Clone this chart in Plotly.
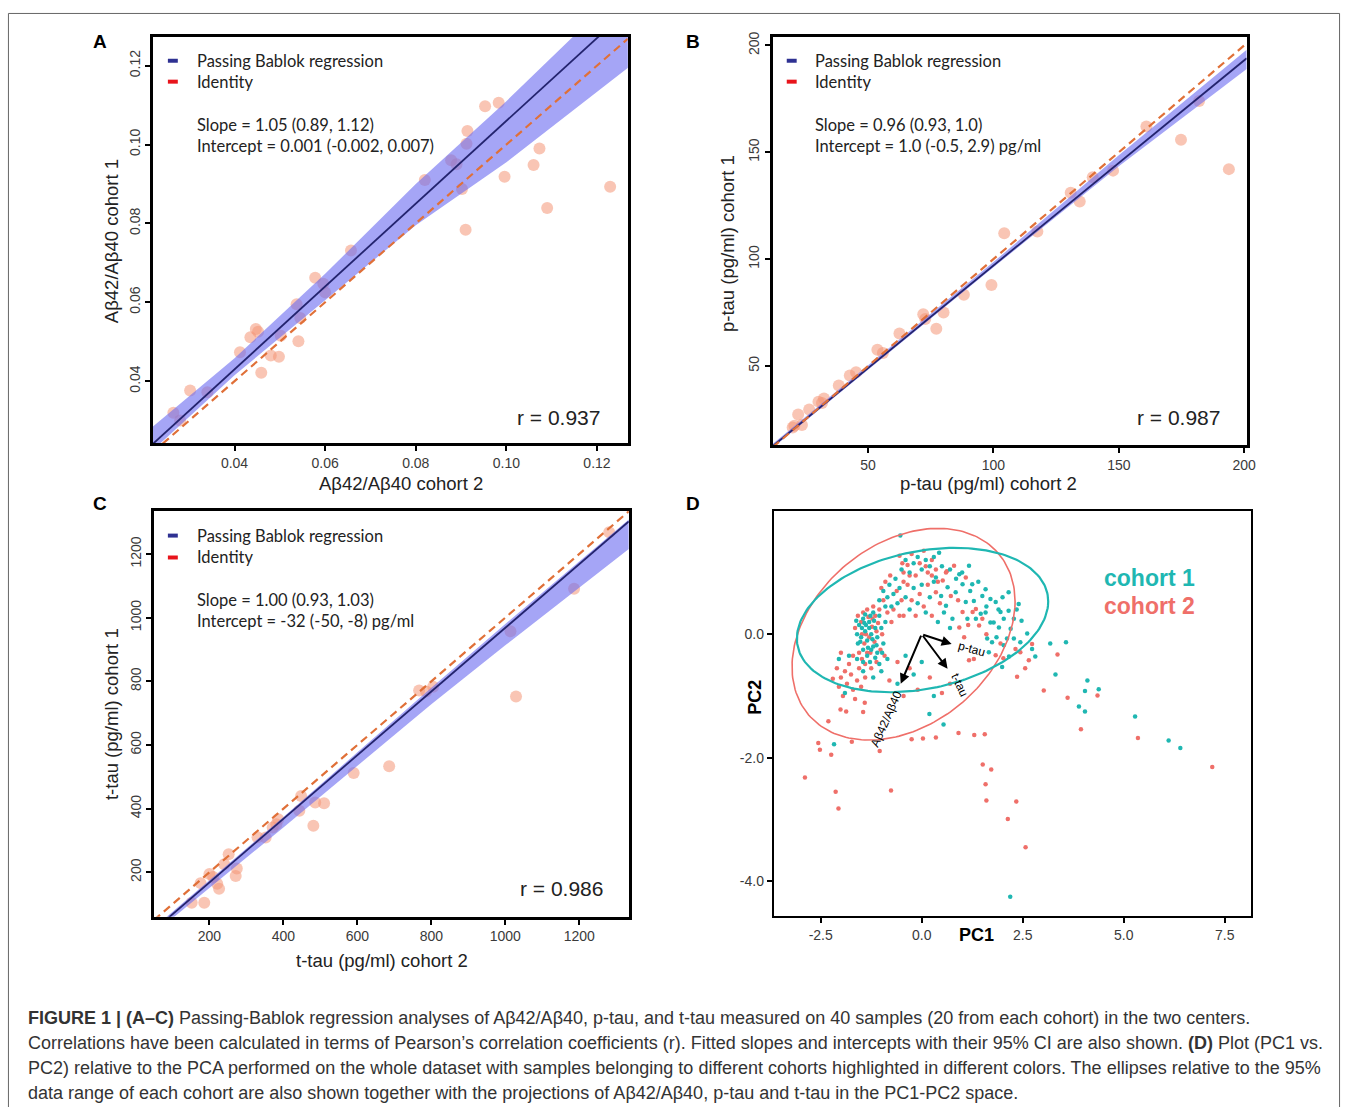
import numpy as np
import plotly.graph_objects as go

# ---------------- data ----------------
# Panel A : Abeta42/Abeta40
a_x = [0.0265, 0.0302, 0.0340, 0.0412, 0.0435, 0.0447, 0.0452, 0.0459, 0.0480, 0.0498, 0.0502,
       0.0541, 0.0537, 0.0578, 0.0596, 0.0657, 0.0820, 0.0878, 0.0902, 0.0910, 0.0914, 0.0912,
       0.0953, 0.0983, 0.0996, 0.1060, 0.1073, 0.1090, 0.1229, 0.0600, 0.0545, 0.0280, 0.0890]
a_y = [0.0320, 0.0376, 0.0372, 0.0473, 0.0511, 0.0532, 0.0525, 0.0421, 0.0465, 0.0462, 0.0515,
       0.0501, 0.0595, 0.0662, 0.0647, 0.0731, 0.0910, 0.0960, 0.0887, 0.0784, 0.1034, 0.1002,
       0.1097, 0.1106, 0.0918, 0.0948, 0.0990, 0.0839, 0.0893, 0.0625, 0.0560, 0.0300, 0.0950]
a_slope, a_icpt = 1.05, 0.001
a_band_x = [0.022, 0.04, 0.06, 0.08, 0.10, 0.127]
a_band_lo = [0.0225, 0.0415, 0.0605, 0.0795, 0.0955, 0.1196]
a_band_hi = [0.0285, 0.0458, 0.0672, 0.0900, 0.1110, 0.1410]

# Panel B : p-tau
b_x = [20.6, 22.1, 23.6, 19.9, 26.5, 30.2, 31.6, 32.4, 38.3, 42.7, 45.2, 53.7, 55.9, 62.5, 72.0,
       72.8, 77.2, 80.1, 88.2, 99.2, 104.3, 117.5, 130.8, 134.4, 139.6, 147.7, 174.8, 193.9, 182.0, 161.0]
b_y = [22.0, 27.3, 22.4, 21.2, 29.6, 33.3, 32.6, 34.8, 40.9, 45.5, 47.0, 57.6, 56.1, 65.2, 74.2,
       72.0, 67.4, 75.0, 83.3, 87.9, 112.1, 112.9, 131.0, 127.0, 138.3, 141.4, 155.8, 142.1, 174.0, 162.0]
b_slope, b_icpt = 0.96, 1.0
b_band_x = [12, 50, 100, 150, 201]
b_band_lo = [11.8, 48.4, 96.2, 143.5, 189.0]
b_band_hi = [13.6, 50.3, 98.6, 148.6, 198.0]

# Panel C : t-tau
c_x = [152, 186, 176, 200, 221, 226, 252, 271, 274, 352, 381, 371, 386, 448, 443, 486, 510, 481,
       590, 686, 767, 805, 786, 1014, 1029, 1186, 1281, 210, 240, 330]
c_y = [104, 104, 166, 195, 164, 148, 257, 188, 212, 309, 351, 341, 367, 440, 393, 419, 417, 346,
       512, 533, 771, 783, 768, 957, 752, 1091, 1268, 185, 225, 310]
c_slope, c_icpt = 1.00, -32.0
c_band_x = [50, 400, 800, 1000, 1334]
c_band_lo = [8, 341, 728, 913, 1216]
c_band_hi = [26, 374, 780, 980, 1308]

# Panel D : PCA scores
d1_pts = [  # cohort 1
    (-1.55, 0.15), (-1.45, 0.25), (-1.40, 0.05), (-1.35, -0.10), (-1.30, 0.20), (-1.25, 0.00),
    (-1.20, -0.20), (-1.15, 0.10), (-1.10, -0.05), (-1.05, 0.30), (-1.50, -0.05), (-1.45, -0.25),
    (-1.35, -0.35), (-1.28, -0.45), (-1.20, 0.35), (-1.10, -0.30), (-1.00, 0.10), (-0.95, -0.15),
    (-1.60, 0.00), (-1.58, -0.15), (-1.40, 0.32), (-1.30, 0.10), (-1.22, -0.08), (-1.15, -0.38),
    (-1.05, -0.48), (-0.90, 0.20), (-1.48, 0.10), (-1.33, -0.22), (-1.18, 0.22), (-1.38, 0.15),
    (-1.62, 0.22), (-1.52, -0.12), (-1.42, 0.18), (-1.27, 0.30), (-1.12, -0.18), (-0.98, -0.30),
    (-1.25, -0.25), (-1.45, -0.45),
    (-1.05, 0.55), (-0.95, 0.70), (-0.85, 0.60), (-0.80, 0.80), (-0.70, 0.65), (-0.65, 0.90),
    (-0.55, 0.75), (-0.90, 0.45), (-0.75, 0.45), (-0.60, 0.50),
    (-0.50, 1.05), (-0.40, 1.20), (-0.30, 1.00), (-0.20, 1.15), (-0.10, 1.25), (0.00, 1.05),
    (0.10, 1.20), (0.20, 1.10), (0.30, 1.25), (0.43, 1.32), (0.50, 1.10), (-0.53, 1.60),
    (-0.40, 0.60), (-0.30, 0.40), (-0.20, 0.75), (-0.10, 0.50), (0.00, 0.80), (0.10, 0.35),
    (0.20, 0.60), (0.30, 0.85), (0.35, 0.92), (0.48, 0.62), (0.60, 0.46), (0.64, 0.76),
    (0.76, 0.25), (0.84, 0.68), (0.93, 0.97), (0.40, 0.20), (0.70, 1.05), (0.85, 0.90),
    (1.00, 1.00), (0.55, 0.35), (0.70, 0.10),
    (1.17, 1.11), (1.25, 0.81), (1.50, 0.62), (1.58, 0.73), (1.70, 0.57), (1.83, 0.52),
    (1.95, 0.36), (2.03, 0.25), (2.15, 0.38), (2.28, 0.25), (2.40, 0.49), (2.47, 0.22),
    (2.20, 0.09), (2.28, -0.07), (2.61, 0.01), (2.73, -0.24), (1.99, -0.53), (2.03, -0.18),
    (1.74, -0.13), (1.62, -0.07), (1.34, 0.25), (1.13, 0.25), (1.01, 0.81), (1.29, 0.54),
    (1.58, 0.35), (1.78, 0.19), (1.09, 0.52), (1.46, 0.33), (1.91, 0.11), (2.15, 0.68),
    (1.70, 0.19), (1.66, -0.29), (2.11, -0.07), (2.44, -0.13), (1.40, 0.85), (1.20, 0.70),
    (1.60, 0.45), (1.90, 0.40), (2.00, 0.60), (1.85, -0.05), (2.35, 0.40),
    (-1.80, -0.35), (-1.60, -0.40), (-1.45, -0.60), (-1.20, -0.70), (-1.00, -0.60), (-0.85, -0.40),
    (-0.60, -0.80), (-0.40, -0.35), (-0.20, -0.65), (0.00, -0.45), (0.30, -1.00), (-1.90, -0.95),
    (-2.05, -0.40),
    (-2.17, -1.78), (0.19, -1.29), (0.54, -1.46), (2.19, -4.25), (3.18, -0.15), (3.57, -0.13),
    (3.31, -0.65), (3.89, -1.17), (4.04, -1.25), (4.04, -0.92), (4.10, -0.75), (4.38, -0.89),
    (5.28, -1.33), (6.11, -1.72), (6.40, -1.84), (2.81, -0.36), (2.16, -0.36),
]
d2_pts = [  # cohort 2
    (-1.50, 0.20), (-1.42, -0.15), (-1.38, 0.00), (-1.32, 0.28), (-1.27, -0.30), (-1.23, 0.12),
    (-1.17, -0.12), (-1.12, 0.05), (-1.08, 0.18), (-1.02, -0.25), (-1.55, -0.30), (-1.48, -0.40),
    (-1.40, -0.48), (-1.25, -0.55), (-1.12, -0.45), (-0.98, 0.00), (-1.65, 0.10), (-1.35, 0.40),
    (-1.20, 0.45), (-0.92, -0.35), (-1.45, 0.35), (-1.30, -0.05), (-1.15, 0.30),
    (-1.58, 0.30), (-1.48, 0.00), (-1.35, -0.30), (-1.22, 0.25),
    (-1.00, 0.75), (-0.90, 0.85), (-0.78, 0.95), (-0.70, 0.40), (-0.62, 0.70), (-0.50, 0.55),
    (-0.85, 0.35), (-0.45, 0.85), (-1.05, 0.40), (-0.95, 0.55), (-0.75, 0.20), (-0.55, 0.30),
    (-0.55, 1.27), (-0.45, 1.00), (-0.35, 1.12), (-0.25, 1.30), (-0.15, 0.95), (-0.05, 1.15),
    (0.05, 1.35), (0.15, 1.00), (0.25, 1.20), (0.35, 1.05), (0.52, 0.87), (0.60, 1.00), (-0.48, 1.15),
    (-0.30, 0.95), (0.10, 1.10), (0.40, 0.85), (0.25, 0.95),
    (-0.35, 0.80), (-0.25, 0.55), (-0.15, 0.30), (-0.05, 0.65), (0.05, 0.45), (0.15, 0.80),
    (0.25, 0.30), (0.35, 0.68), (0.45, 0.50), (0.72, 0.62), (0.80, 1.11), (0.62, 1.02),
    (1.01, 0.36), (0.93, 0.11), (-0.45, 0.30), (0.90, 0.55),
    (1.09, 0.92), (1.42, 0.14), (1.50, 0.25), (1.34, 0.41), (1.26, 0.36), (1.05, -0.05),
    (1.17, -0.42), (1.29, -0.40), (1.83, -0.34), (2.32, -0.24), (2.44, -0.29), (2.65, -0.42),
    (2.56, -0.55), (2.36, -0.69), (2.73, -0.16), (1.15, 0.15), (1.60, 0.00), (1.95, -0.15),
    (-2.10, -0.55), (-2.00, -0.70), (-1.90, -0.60), (-1.85, -0.80), (-1.75, -0.65), (-1.70, -0.90),
    (-1.60, -0.75), (-1.55, -0.55), (-2.05, -0.85), (-1.95, -1.00), (-1.80, -0.48), (-1.65, -1.05),
    (-1.50, -0.85), (-1.40, -0.70), (-2.20, -0.72), (-0.80, -0.75), (-0.60, -0.45), (-0.30, -0.55),
    (-0.10, -0.90), (0.20, -0.70), (-0.45, -1.00), (0.50, -0.95), (0.70, -0.80),
    (-2.00, -0.30), (-1.70, -0.35),
    (-2.89, -2.32), (-2.56, -1.76), (-2.52, -1.87), (-2.24, -1.95), (-2.13, -2.55), (-2.06, -2.82),
    (-2.31, -1.41), (-2.01, -1.22), (-1.87, -1.25), (-1.73, -1.74), (-1.45, -1.26), (-1.41, -1.11),
    (-1.04, -1.89), (-0.76, -2.53), (-0.25, -1.70), (0.03, -1.69), (0.35, -1.67), (0.91, -1.60),
    (1.30, -1.63), (1.56, -1.62), (1.51, -2.11), (1.72, -2.19), (1.58, -2.43), (1.60, -2.69),
    (2.13, -2.99), (2.34, -2.71), (2.57, -3.45), (3.02, -0.91), (3.36, -0.33), (3.61, -1.03),
    (3.94, -1.54), (4.35, -0.99), (5.35, -1.68), (7.19, -2.15), (2.02, -0.39),
]
# 95% ellipses: centre, semi-diameter to rightmost point, vertical conjugate half-height
ell1 = dict(cx=0.02, cy=0.23, ux=3.11, uy=0.30, h=1.13)
ell2 = dict(cx=-0.45, cy=0.00, ux=2.76, uy=0.53, h=1.63)
# loading arrows (tips) and labels
load_names = ["p-tau", "t-tau", "Aβ42/Aβ40"]
load_tip_x = [0.74, 0.64, -0.52]
load_tip_y = [-0.16, -0.56, -0.80]
load_lab_x = [1.24, 0.93, -0.88]
load_lab_y = [-0.24, -0.83, -1.37]
load_lab_ang = [15, 65, -66]

# ---------------- layout helpers ----------------
W, H = 1357, 1107


def fx(px):
    return px / W


def fy(py):
    return 1 - py / H


FONT_T = "Liberation Sans, Arial, sans-serif"
FONT_L = "Lato, Open Sans, sans-serif"
PT_COL = "rgba(244,150,118,0.55)"
BAND_COL = "rgba(110,110,240,0.62)"
LINE_COL = "#23236e"
ID_COL = "#e07038"
TEAL = "#1fb7b2"
RED = "#ef6f69"

fig = go.Figure()

panels = [
    dict(ax="", x=a_x, y=a_y, s=a_slope, i=a_icpt, bx=a_band_x, blo=a_band_lo, bhi=a_band_hi,
         xr=[0.022, 0.1268], yr=[0.0243, 0.1273]),
    dict(ax="2", x=b_x, y=b_y, s=b_slope, i=b_icpt, bx=b_band_x, blo=b_band_lo, bhi=b_band_hi,
         xr=[12, 201], yr=[13, 204]),
    dict(ax="3", x=c_x, y=c_y, s=c_slope, i=c_icpt, bx=c_band_x, blo=c_band_lo, bhi=c_band_hi,
         xr=[50, 1334], yr=[60, 1336]),
]

for p in panels:
    xa, ya = "x" + p["ax"], "y" + p["ax"]
    fig.add_trace(go.Scatter(x=p["x"], y=p["y"], mode="markers", xaxis=xa, yaxis=ya,
                             marker=dict(size=12, color=PT_COL, line=dict(width=0)),
                             showlegend=False, hoverinfo="skip"))
    fig.add_trace(go.Scatter(x=p["bx"] + p["bx"][::-1], y=p["bhi"] + p["blo"][::-1],
                             fill="toself", fillcolor=BAND_COL, line=dict(width=0),
                             mode="lines", xaxis=xa, yaxis=ya, showlegend=False, hoverinfo="skip"))
    lx = np.array(p["xr"])
    fig.add_trace(go.Scatter(x=lx, y=p["s"] * lx + p["i"], mode="lines", xaxis=xa, yaxis=ya,
                             line=dict(color=LINE_COL, width=1.8), showlegend=False,
                             hoverinfo="skip"))
    fig.add_trace(go.Scatter(x=lx, y=lx, mode="lines", xaxis=xa, yaxis=ya,
                             line=dict(color=ID_COL, width=2.2, dash="8px,5px"),
                             showlegend=False, hoverinfo="skip"))

# Panel D
d1x, d1y = zip(*d1_pts)
d2x, d2y = zip(*d2_pts)
fig.add_trace(go.Scatter(x=d2x, y=d2y, mode="markers", xaxis="x4", yaxis="y4",
                         marker=dict(size=4.5, color=RED), showlegend=False, hoverinfo="skip"))
fig.add_trace(go.Scatter(x=d1x, y=d1y, mode="markers", xaxis="x4", yaxis="y4",
                         marker=dict(size=4.5, color=TEAL), showlegend=False, hoverinfo="skip"))
t = np.linspace(0, 2 * np.pi, 200)
for e, col, wd in [(ell2, RED, 1.6), (ell1, TEAL, 2.2)]:
    ex = e["cx"] + e["ux"] * np.cos(t)
    ey = e["cy"] + e["uy"] * np.cos(t) + e["h"] * np.sin(t)
    fig.add_trace(go.Scatter(x=ex, y=ey, mode="lines", xaxis="x4", yaxis="y4",
                             line=dict(color=col, width=wd), showlegend=False, hoverinfo="skip"))

annotations = []
shapes = []

for nm, tx, ty, lx_, ly_, ang in zip(load_names, load_tip_x, load_tip_y, load_lab_x, load_lab_y,
                                      load_lab_ang):
    annotations.append(dict(x=tx, y=ty, ax=0, ay=0, xref="x4", yref="y4", axref="x4", ayref="y4",
                            text="", showarrow=True, arrowhead=2, arrowsize=1, arrowwidth=2,
                            arrowcolor="black"))
    annotations.append(dict(x=lx_, y=ly_, xref="x4", yref="y4", text=nm, showarrow=False,
                            textangle=ang, font=dict(family=FONT_T, size=12, color="black")))

# axes
boxes = {
    "": ([154, 632], [32, 440]),
    "2": ([778, 1255], [32, 442]),
    "3": ([155, 633], [508, 916]),
    "4": ([779, 1259], [508, 915]),
}
tick_sets = {
    "": ([0.04, 0.06, 0.08, 0.10, 0.12], ["0.04", "0.06", "0.08", "0.10", "0.12"],
         [0.04, 0.06, 0.08, 0.10, 0.12], ["0.04", "0.06", "0.08", "0.10", "0.12"]),
    "2": ([50, 100, 150, 200], ["50", "100", "150", "200"],
          [50, 100, 150, 200], ["50", "100", "150", "200"]),
    "3": ([200, 400, 600, 800, 1000, 1200], ["200", "400", "600", "800", "1000", "1200"],
          [200, 400, 600, 800, 1000, 1200], ["200", "400", "600", "800", "1000", "1200"]),
    "4": ([-2.5, 0, 2.5, 5, 7.5], ["-2.5", "0.0", "2.5", "5.0", "7.5"],
          [0, -2, -4], ["0.0", "-2.0", "-4.0"]),
}
ranges = {"": (panels[0]["xr"], panels[0]["yr"]), "2": (panels[1]["xr"], panels[1]["yr"]),
          "3": (panels[2]["xr"], panels[2]["yr"]), "4": ([-3.66, 8.14], [-4.56, 2.0])}

layout = dict(width=W, height=H, margin=dict(l=0, r=0, t=0, b=0), paper_bgcolor="white",
              plot_bgcolor="white", showlegend=False)
for k, (bx, by) in boxes.items():
    xtv, xtt, ytv, ytt = tick_sets[k]
    common = dict(showline=True, mirror=True, linecolor="black",
                  linewidth=2.5 if k != "4" else 2.2, ticks="outside", ticklen=5, tickwidth=1.5,
                  tickcolor="black", showgrid=False, zeroline=False,
                  tickfont=dict(family=FONT_T, size=14, color="#3a3a3a"), fixedrange=True)
    layout["xaxis" + k] = dict(domain=[fx(bx[0]), fx(bx[1])], range=ranges[k][0],
                               anchor="y" + k, tickvals=xtv, ticktext=xtt, **common)
    layout["yaxis" + k] = dict(domain=[fy(by[1]), fy(by[0])], range=ranges[k][1],
                               anchor="x" + k, tickvals=ytv, ticktext=ytt,
                               tickangle=-90 if k != "4" else 0, **common)


def txt(px, py, s, size, family=FONT_T, color="#222", xanchor="center", angle=0, bold=False):
    if bold:
        s = "<b>" + s + "</b>"
    annotations.append(dict(x=fx(px), y=fy(py), xref="paper", yref="paper", text=s,
                            showarrow=False, xanchor=xanchor, yanchor="middle", textangle=angle,
                            font=dict(family=family, size=size, color=color)))


# panel letters
for L, px, py in [("A", 101, 37), ("B", 698, 37), ("C", 101, 501), ("D", 698, 501)]:
    txt(px, py, L, 19, bold=True, color="black")

# in-panel legends and stats
leg = [(169, 196, 56, 77, 121, 142, "Slope = 1.05 (0.89, 1.12)",
        "Intercept = 0.001 (-0.002, 0.007)", 606, 414, "r = 0.937"),
       (792, 818, 56, 77, 121, 142, "Slope = 0.96 (0.93, 1.0)",
        "Intercept = 1.0 (-0.5, 2.9) pg/ml", 1230, 414, "r = 0.987"),
       (169, 196, 533, 555, 598, 619, "Slope = 1.00 (0.93, 1.03)",
        "Intercept = -32 (-50, -8) pg/ml", 609, 888, "r = 0.986")]
for mx, tx0, y1, y2, ys1, ys2, s1, s2, rx, ry, rt in leg:
    shapes.append(dict(type="rect", xref="paper", yref="paper", x0=fx(mx), x1=fx(mx + 10),
                       y0=fy(y1 + 2), y1=fy(y1 - 2), fillcolor="#2e3192", line=dict(width=0)))
    shapes.append(dict(type="rect", xref="paper", yref="paper", x0=fx(mx), x1=fx(mx + 10),
                       y0=fy(y2 + 2), y1=fy(y2 - 2), fillcolor="#e8141b", line=dict(width=0)))
    txt(tx0, y1, "Passing Bablok regression", 16.5, family=FONT_L, xanchor="left")
    txt(tx0, y2, "Identity", 16.5, family=FONT_L, xanchor="left")
    txt(tx0, ys1, s1, 16.5, family=FONT_L, xanchor="left")
    txt(tx0, ys2, s2, 16.5, family=FONT_L, xanchor="left")
    annotations.append(dict(x=fx(rx), y=fy(ry), xref="paper", yref="paper", text=rt,
                            showarrow=False, xanchor="right", yanchor="middle",
                            font=dict(family=FONT_T, size=21, color="#222")))

# axis titles
txt(404, 481, "Aβ42/Aβ40 cohort 2", 18.5)
txt(113, 237, "Aβ42/Aβ40 cohort 1", 18.5, angle=-90)
txt(995, 481, "p-tau (pg/ml) cohort 2", 18.5)
txt(733, 240, "p-tau (pg/ml) cohort 1", 18.5, angle=-90)
txt(385, 960, "t-tau (pg/ml) cohort 2", 18.5)
txt(113, 712, "t-tau (pg/ml) cohort 1", 18.5, angle=-90)
txt(983, 934, "PC1", 18, bold=True, color="black")
txt(760, 695, "PC2", 18, bold=True, color="black", angle=-90)

# D legend
txt(1157, 576, "cohort 1", 23, bold=True, color=TEAL)
txt(1157, 604, "cohort 2", 23, bold=True, color=RED)

# caption
cap = [
    "<b>FIGURE 1 | (A–C)</b> Passing-Bablok regression analyses of Aβ42/Aβ40, p-tau, and t-tau "
    "measured on 40 samples (20 from each cohort) in the two centers.",
    "Correlations have been calculated in terms of Pearson’s correlation coefficients (r). Fitted "
    "slopes and intercepts with their 95% CI are also shown. <b>(D)</b> Plot (PC1 vs.",
    "PC2) relative to the PCA performed on the whole dataset with samples belonging to different "
    "cohorts highlighted in different colors. The ellipses relative to the 95%",
    "data range of each cohort are also shown together with the projections of Aβ42/Aβ40, p-tau "
    "and t-tau in the PC1-PC2 space.",
]
for k, line in enumerate(cap):
    txt(26, 1018 + 25 * k, line, 18, color="#333", xanchor="left")

# outer frame
shapes.append(dict(type="path", xref="paper", yref="paper",
                   path="M {a},{b} L {a},{c} L {d},{c} L {d},{b}".format(
                       a=fx(8.5), b=-0.05, c=fy(8.5), d=fx(1348.5)),
                   line=dict(color="#666", width=1)))

layout["annotations"] = annotations
layout["shapes"] = shapes
fig.update_layout(**layout)
fig.write_html(
    "out.html",
    config={"displayModeBar": False},
    post_script=(
        "document.body.style.margin='0';"
        "document.body.style.overflow='hidden';"
        "document.documentElement.style.overflow='hidden';"
        "var gd=document.getElementById('{plot_id}');"
        "gd.style.position='fixed';gd.style.left='0px';gd.style.top='0px';"
    ),
)
